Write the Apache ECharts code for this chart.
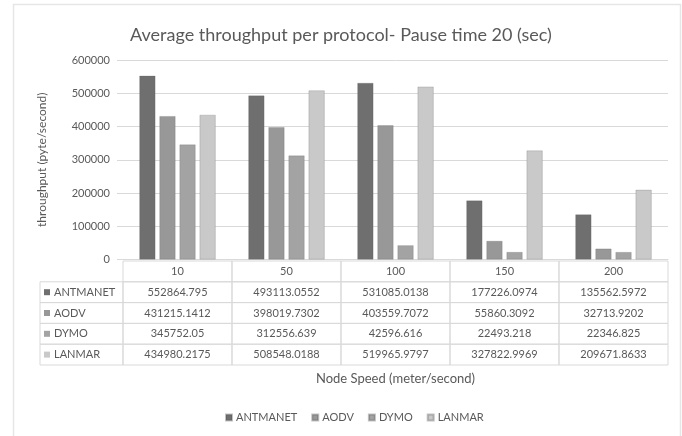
<!DOCTYPE html>
<html><head><meta charset="utf-8">
<script src="https://cdn.jsdelivr.net/npm/echarts@6/dist/echarts.min.js"></script>
<style>html,body{margin:0;padding:0;background:#fff}#c{width:682px;height:436px}</style>
</head><body><div id="c"></div>
<script>
const categories = ['10', '50', '100', '150', '200'];
const seriesNames = ['ANTMANET', 'AODV', 'DYMO', 'LANMAR'];
const antmanet = [552864.795, 493113.0552, 531085.0138, 177226.0974, 135562.5972];
const aodv = [431215.1412, 398019.7302, 403559.7072, 55860.3092, 32713.9202];
const dymo = [345752.05, 312556.639, 42596.616, 22493.218, 22346.825];
const lanmar = [434980.2175, 508548.0188, 519965.9797, 327822.9969, 209671.8633];
const seriesData = [antmanet, aodv, dymo, lanmar];
const colors = ['#6f6f6f', '#989898', '#a3a3a3', '#c9c9c9'];

const FONT = 'Lato, "Open Sans", sans-serif';
const TXT = '#595959';
const LINE = '#d9d9d9';
const gridLeft = 123, gridTop = 60, gridRight = 14, gridBottom = 176.5;

const chart = echarts.init(document.getElementById('c'), null, {renderer: 'canvas'});
const option = {
  animation: false,
  backgroundColor: '#fff',
  textStyle: {fontFamily: FONT},
  title: {
    text: 'Average throughput per protocol- Pause time 20 (sec)',
    left: 'center', top: 21,
    textStyle: {fontFamily: FONT, fontSize: 18, fontWeight: 'normal', color: TXT}
  },
  legend: {
    top: 407, left: 220,
    itemWidth: 6, itemHeight: 6, itemGap: 14,
    icon: 'rect',
    textStyle: {fontFamily: FONT, fontSize: 11, color: TXT, padding: [0, 0, 0, -1]},
    data: seriesNames
  },
  grid: {left: gridLeft, top: gridTop, right: gridRight, bottom: gridBottom, containLabel: false},
  xAxis: {
    type: 'category', data: categories,
    axisLine: {show: true, lineStyle: {color: LINE}},
    axisTick: {show: false},
    axisLabel: {show: false},
    name: 'Node Speed (meter/second)',
    nameLocation: 'middle', nameGap: 113,
    nameTextStyle: {fontFamily: FONT, fontSize: 13, color: TXT}
  },
  yAxis: {
    type: 'value', min: 0, max: 600000, interval: 100000,
    axisLine: {show: false},
    axisTick: {show: true, length: 6, lineStyle: {color: LINE}},
    splitLine: {lineStyle: {color: LINE}},
    axisLabel: {margin: 13, fontFamily: FONT, fontSize: 11, color: TXT, formatter: v => String(v)},
    name: 'throughput (pyte/second)',
    nameLocation: 'middle', nameGap: 75,
    nameTextStyle: {fontFamily: FONT, fontSize: 12, color: TXT}
  },
  series: seriesNames.map((n, i) => ({
    name: n, type: 'bar', data: seriesData[i],
    itemStyle: {color: colors[i], borderColor: 'rgba(80,80,80,0.35)', borderWidth: 0.6},
    barGap: '25%', barCategoryGap: '30%'
  }))
};
chart.setOption(option);

// Build the data table below the plot from the same arrays
const x0 = chart.convertToPixel({xAxisIndex: 0}, 0);
const x1 = chart.convertToPixel({xAxisIndex: 0}, 1);
const band = x1 - x0;
const yZero = chart.convertToPixel({yAxisIndex: 0}, 0);
const tableTop = yZero + 1.5, rowH = 20.8, labelLeft = 40;
const colLeft = i => x0 - band / 2 + i * band;
const g = [];
for (let i = 0; i < categories.length; i++) {
  g.push({type: 'rect', shape: {x: colLeft(i), y: tableTop, width: band, height: rowH},
    style: {fill: 'none', stroke: LINE, lineWidth: 1}});
  g.push({type: 'text', x: colLeft(i) + band / 2, y: tableTop + rowH / 2,
    style: {text: categories[i], align: 'center', verticalAlign: 'middle', fill: TXT, font: '11px ' + FONT}});
}
for (let r = 0; r < seriesNames.length; r++) {
  const y = tableTop + rowH * (r + 1);
  g.push({type: 'rect', shape: {x: labelLeft, y: y, width: colLeft(0) - labelLeft, height: rowH},
    style: {fill: 'none', stroke: LINE, lineWidth: 1}});
  g.push({type: 'rect', shape: {x: labelLeft + 4, y: y + rowH / 2 - 3, width: 6, height: 6},
    style: {fill: colors[r]}});
  g.push({type: 'text', x: labelLeft + 14, y: y + rowH / 2,
    style: {text: seriesNames[r], align: 'left', verticalAlign: 'middle', fill: TXT, font: '11px ' + FONT}});
  for (let i = 0; i < categories.length; i++) {
    g.push({type: 'rect', shape: {x: colLeft(i), y: y, width: band, height: rowH},
      style: {fill: 'none', stroke: LINE, lineWidth: 1}});
    g.push({type: 'text', x: colLeft(i) + band / 2, y: y + rowH / 2,
      style: {text: String(seriesData[r][i]), align: 'center', verticalAlign: 'middle', fill: TXT, font: '11px ' + FONT}});
  }
}
// light chart frame (left, top, right edges visible)
g.push({type: 'polyline', shape: {points: [[13.5, 440], [13.5, 4.5], [680.5, 4.5], [680.5, 440]]},
  style: {fill: 'none', stroke: '#e6e6e6', lineWidth: 1.5}});
chart.setOption({graphic: g});
</script>
</body></html>
